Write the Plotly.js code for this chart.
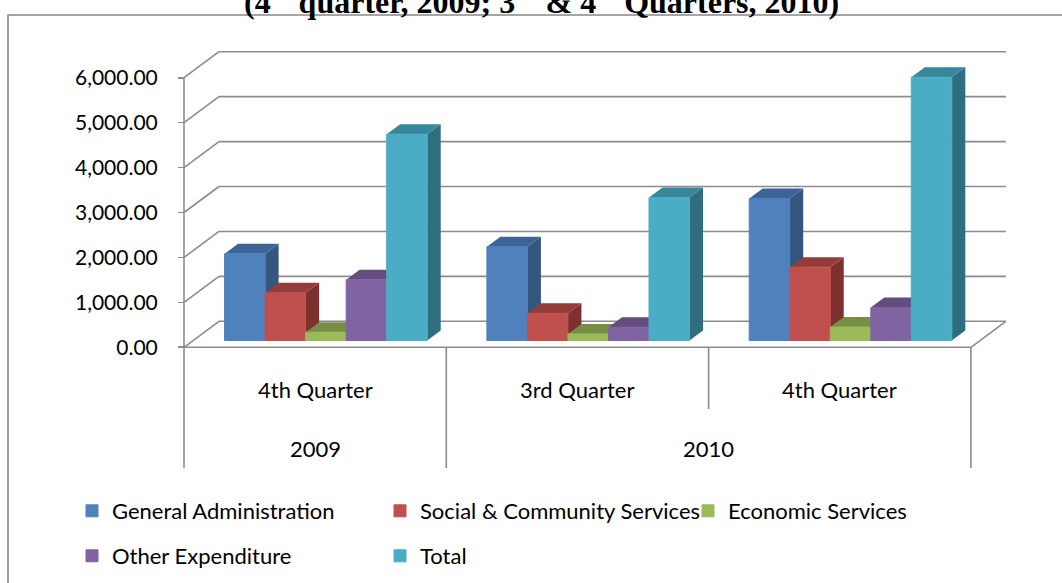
<!DOCTYPE html>
<html>
<head>
<meta charset="utf-8">
<script src="https://cdn.plot.ly/plotly-3.0.1.min.js"></script>
<style>html,body{margin:0;padding:0;background:#fff;}#chart{width:1062px;height:583px;}</style>
</head>
<body>
<div id="chart"></div>
<script>
// ---- data ----
const quarters = ['4th Quarter', '3rd Quarter', '4th Quarter'];
const years = ['2009', '2010', '2010'];
const seriesNames = ['General Administration', 'Social & Community Services', 'Economic Services', 'Other Expenditure', 'Total'];
const generalAdministration = [1930, 2088, 3160];
const socialCommunity = [1062, 605, 1633];
const economicServices = [185, 145, 298];
const otherExpenditure = [1351, 294, 734];
const total = [4590, 3180, 5860];
const tickValues = [0, 1000, 2000, 3000, 4000, 5000, 6000];

// ---- styling ----
const frontColors = ['#4F81BD', '#C0504D', '#9BBB59', '#8064A2', '#4BACC6'];
const topColors   = ['#3C6496', '#943C3A', '#778F44', '#634D7F', '#37869B'];
const sideColors  = ['#34567F', '#7D302E', '#65793A', '#53406B', '#2F6E7F'];
const seriesValues = [generalAdministration, socialCommunity, economicServices, otherExpenditure, total];

const FW = 1062, FH = 583;
const UX = 262.3;          // px per category
const UY = 0.04493;        // px per value unit
const X0PX = 184, Y0PX = 347.3;
const DX = 35 / UX, DY = 26 / UY;        // wall depth
const BX = 13.5 / UX, BY = 10 / UY;      // bar depth
const BASE = 6.8 / UY;                   // bar floor offset
const SHIFT = 0.041, BW = 0.1545;        // bar placement
const GRID = '#8C8C8C';
const FONT = 'Lato, "Open Sans", sans-serif';

const nCat = quarters.length;
const xLeft = -0.5, xRight = nCat - 0.5;
const yMaxTick = tickValues[tickValues.length - 1];
const yBottomFull = (Y0PX - 468) / UY;
const yBottomShort = (Y0PX - 409) / UY;

// grid / wall lines
const gx = [], gy = [];
function seg(x1, y1, x2, y2) { gx.push(x1, x2, null); gy.push(y1, y2, null); }
tickValues.forEach(v => {
  seg(xLeft + DX, v + DY, xRight + DX, v + DY);
  seg(xLeft, v, xLeft + DX, v + DY);
});
seg(xLeft, 0, xRight, 0);
seg(xRight, 0, xRight + DX, DY);
seg(xLeft, yMaxTick, xLeft, yBottomFull);
// category dividers
for (let k = 1; k <= nCat; k++) {
  const xb = k - 0.5;
  const full = (k === nCat) || years[k] !== years[k - 1];
  seg(xb, 0, xb, full ? yBottomFull : yBottomShort);
}

const traces = [{
  type: 'scatter', mode: 'lines', x: gx, y: gy,
  line: {color: GRID, width: 1.6}, hoverinfo: 'skip', showlegend: false
}];

// side & top faces
seriesValues.forEach((vals, i) => {
  const sx = [], sy = [], tx = [], ty = [];
  vals.forEach((v, g) => {
    const xl = g + SHIFT + (i - 2.5) * BW;
    const xr = xl + BW;
    sx.push(xr, xr + BX, xr + BX, xr, xr, null);
    sy.push(BASE, BASE + BY, BASE + v + BY, BASE + v, BASE, null);
    tx.push(xl, xl + BX, xr + BX, xr, xl, null);
    ty.push(BASE + v, BASE + v + BY, BASE + v + BY, BASE + v, BASE + v, null);
  });
  traces.push({type: 'scatter', mode: 'lines', x: sx, y: sy, fill: 'toself', fillcolor: sideColors[i],
    line: {width: 0, color: sideColors[i]}, hoverinfo: 'skip', showlegend: false});
  traces.push({type: 'scatter', mode: 'lines', x: tx, y: ty, fill: 'toself', fillcolor: topColors[i],
    line: {width: 0, color: topColors[i]}, hoverinfo: 'skip', showlegend: false});
});

// front faces as bars
const catIdx = quarters.map((q, k) => k);
seriesValues.forEach((vals, i) => {
  traces.push({
    type: 'bar', name: seriesNames[i], x: catIdx, y: vals, base: BASE,
    width: BW, offset: SHIFT + (i - 2.5) * BW,
    marker: {color: frontColors[i], line: {width: 1, color: frontColors[i]}},
    xaxis: 'x2', yaxis: 'y2',
    legend: i < 3 ? 'legend' : 'legend2'
  });
});

const xRange = [xLeft - (X0PX - 150) / UX, xLeft + (1040 - X0PX) / UX];
const yRange = [(Y0PX - 480) / UY, (Y0PX - 40) / UY];
const xDom = [150 / FW, 1040 / FW];
const yDom = [1 - 480 / FH, 1 - 40 / FH];

const annotations = [];
quarters.forEach((q, k) => annotations.push({
  text: q, x: k, xref: 'x', y: 1 - 389 / FH, yref: 'paper', showarrow: false,
  xanchor: 'center', yanchor: 'middle', font: {family: FONT, size: 22, color: '#000'}
}));
const uniqYears = [...new Set(years)];
uniqYears.forEach(yr => {
  const idx = catIdx.filter(k => years[k] === yr);
  const cx = idx.reduce((a, b) => a + b, 0) / idx.length;
  annotations.push({text: yr, x: cx, xref: 'x', y: 1 - 448 / FH, yref: 'paper', showarrow: false,
    xanchor: 'center', yanchor: 'middle', font: {family: FONT, size: 22, color: '#000'}});
});
annotations.push({
  text: '<b>(4<sup>th</sup> quarter, 2009; 3<sup>rd</sup> &amp; 4<sup>th</sup> Quarters, 2010)</b>',
  x: 541 / FW, xref: 'paper', y: 1 - 22 / FH, yref: 'paper', showarrow: false,
  xanchor: 'center', yanchor: 'bottom', font: {family: '"Liberation Serif", "Times New Roman", serif', size: 32, color: '#000'}
});

const legendBase = {orientation: 'h', xanchor: 'left', yanchor: 'middle', entrywidthmode: 'pixels', entrywidth: 263,
  font: {family: FONT, size: 22, color: '#000'}, bgcolor: 'rgba(0,0,0,0)', traceorder: 'normal'};

const layout = {
  width: FW, height: FH,
  margin: {l: 0, r: 0, t: 0, b: 0, autoexpand: false},
  paper_bgcolor: '#fff', plot_bgcolor: 'rgba(0,0,0,0)',
  showlegend: true,
  barmode: 'overlay',
  xaxis: {domain: xDom, range: xRange, visible: false, fixedrange: true},
  yaxis: {domain: yDom, range: yRange, anchor: 'free', position: X0PX / FW,
    showgrid: false, zeroline: false, showline: false,
    tickmode: 'array', tickvals: tickValues, tickformat: ',.2f',
    ticks: 'outside', ticklen: 6, tickwidth: 1.6, tickcolor: GRID, ticklabelstandoff: 16,
    tickfont: {family: FONT, size: 21, color: '#000'}, fixedrange: true},
  xaxis2: {overlaying: 'x', range: xRange, visible: false, fixedrange: true},
  yaxis2: {overlaying: 'y', range: yRange, visible: false, fixedrange: true},
  legend: Object.assign({}, legendBase, {x: 72 / FW, y: 1 - 511 / FH}),
  legend2: Object.assign({}, legendBase, {x: 72 / FW, y: 1 - 556 / FH}),
  annotations: annotations,
  shapes: [{type: 'rect', xref: 'paper', yref: 'paper', x0: 8 / FW, x1: 1.05, y0: -0.05, y1: 1 - 15 / FH,
    line: {color: '#888', width: 1.6}, fillcolor: 'rgba(0,0,0,0)', layer: 'below'}]
};

Plotly.newPlot('chart', traces, layout, {staticPlot: true, displayModeBar: false});
</script>
</body>
</html>
